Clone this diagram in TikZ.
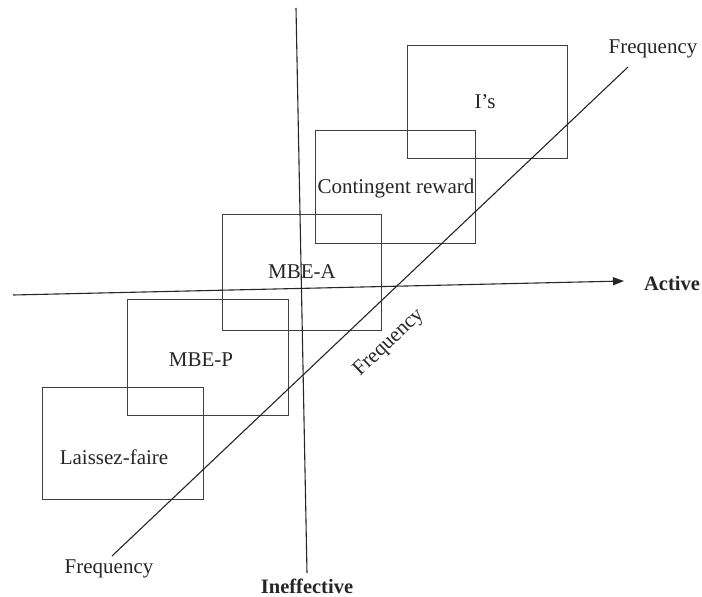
\documentclass[tikz,border=0pt]{standalone}
\usepackage{fontspec}
\setmainfont{Liberation Serif}
\usetikzlibrary{arrows.meta}
\begin{document}
\begin{tikzpicture}[x=1pt,y=-1pt,
  box/.style={draw=black!75,line width=0.8pt,inner sep=0pt},
  axis/.style={draw=black!85,line width=1.1pt},
  lbl/.style={font=\fontsize{21}{25}\selectfont,inner sep=0pt,text=black!85},
  blbl/.style={font=\fontsize{20.5}{24}\selectfont\bfseries,inner sep=0pt,text=black!85}]
\useasboundingbox[fill=white] (0,0) rectangle (702,597);
% boxes
\node[box,minimum width=160pt,minimum height=113pt] (is) at (487,101.5) {};
\node[box,minimum width=160pt,minimum height=113pt] (cr) at (395,186.5) {};
\node[box,minimum width=159pt,minimum height=116pt] (mbea) at (301.5,272) {};
\node[box,minimum width=161pt,minimum height=116pt] (mbep) at (207.5,357) {};
\node[box,minimum width=161pt,minimum height=112pt] (lf) at (122.5,443) {};
% box texts
\node[lbl] (tis) at (485,102) {I's};
\node[lbl] (tcr) at (396,188) {Contingent reward};
\node[lbl] (tmbea) at (302,272) {MBE-A};
\node[lbl] (tmbep) at (201,360) {MBE-P};
\node[lbl] (tlf) at (114,457) {Laissez-faire};
% axes
\coordinate (vtop) at (296,8);
\coordinate (vbot) at (307,573);
\coordinate (hl) at (13,295);
\coordinate (hr) at (624,281);
\coordinate (dbot) at (112,556);
\coordinate (dtop) at (628,67);
\draw[axis] (vtop) -- (vbot);
\draw[axis,-{Triangle[length=11pt,width=8pt]}] (hl) -- (hr);
\draw[axis] (dbot) -- (dtop);
% axis labels
\node[blbl] (active) at (672,283) {Active};
\node[blbl] (ineff) at (307,586) {Ineffective};
\node[lbl] (ftop) at (653,49) {Frequency};
\node[lbl] (fbot) at (109,569) {Frequency};
\node[lbl,rotate=43.5] (fmid) at (389,343) {Frequency};
\end{tikzpicture}
\end{document}
